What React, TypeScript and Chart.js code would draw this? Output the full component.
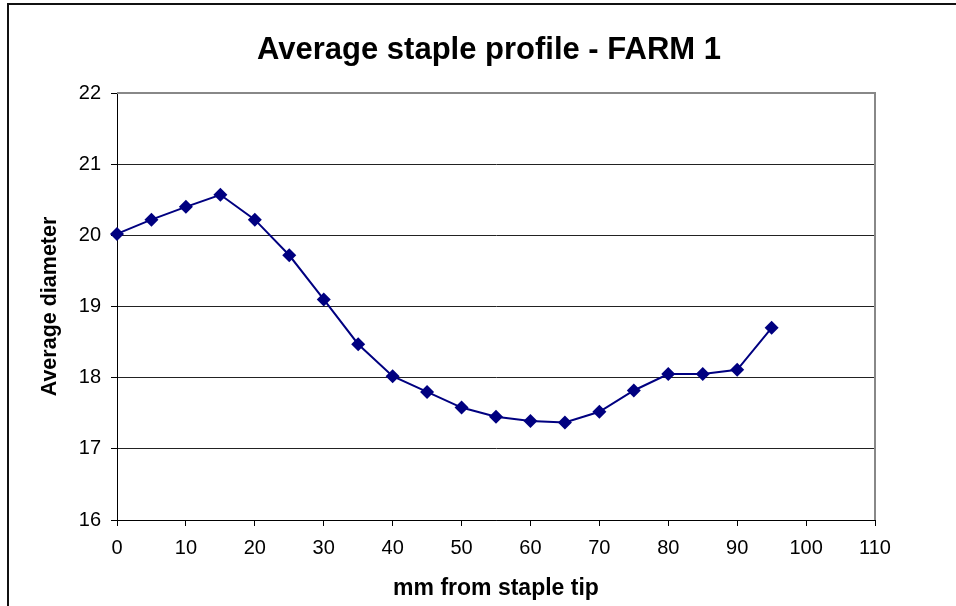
import React, { useEffect, useRef } from "react";
import { Chart, registerables } from "chart.js";

Chart.register(...registerables);

// Distance from the staple tip (mm) and the average fibre diameter measured there
const distanceMm: number[] = [0, 5, 10, 15, 20, 25, 30, 35, 40, 45, 50, 55, 60, 65, 70, 75, 80, 85, 90, 95];
const avgDiameter: number[] = [
  20.02, 20.22, 20.4, 20.57, 20.22, 19.72, 19.1, 18.47, 18.02, 17.8,
  17.58, 17.45, 17.39, 17.37, 17.52, 17.82, 18.05, 18.05, 18.11, 18.7,
];

const chartTitle = "Average staple profile - FARM 1";
const xAxisTitle = "mm from staple tip";
const yAxisTitle = "Average diameter";

const FONT = "'Liberation Sans', Arial, Helvetica, sans-serif";
const NAVY = "#000080";

// Outer frame, plot-area frame and the chart heading
const decorations = {
  id: "decorations",
  beforeDatasetsDraw(chart: any) {
    const { ctx, chartArea } = chart;
    ctx.save();
    ctx.strokeStyle = "#888888";
    ctx.lineWidth = 2;
    ctx.beginPath();
    ctx.moveTo(chartArea.left, chartArea.top);
    ctx.lineTo(chartArea.right, chartArea.top);
    ctx.lineTo(chartArea.right, chartArea.bottom);
    ctx.stroke();
    ctx.restore();
  },
  afterDraw(chart: any) {
    const { ctx } = chart;
    ctx.save();
    ctx.fillStyle = "#111";
    ctx.fillRect(7, 3, 2, 603);
    ctx.fillRect(7, 3, 949, 2);
    ctx.fillStyle = "#000";
    ctx.font = `bold 31px ${FONT}`;
    ctx.textAlign = "center";
    ctx.textBaseline = "alphabetic";
    ctx.fillText(chartTitle, 489, 59);
    ctx.restore();
  },
};

export default function App() {
  const canvasRef = useRef<HTMLCanvasElement | null>(null);

  useEffect(() => {
    document.body.style.margin = "0";
    const canvas = canvasRef.current;
    if (!canvas) return;
    const chart = new Chart(canvas, {
      type: "line",
      data: {
        datasets: [
          {
            label: yAxisTitle,
            data: distanceMm.map((x, i) => ({ x, y: avgDiameter[i] })),
            borderColor: NAVY,
            backgroundColor: NAVY,
            borderWidth: 2,
            tension: 0,
            pointStyle: "rectRot",
            pointRadius: 7,
            pointBorderWidth: 0,
            pointBackgroundColor: NAVY,
            clip: false,
          } as any,
        ],
      },
      options: {
        responsive: false,
        animation: false,
        devicePixelRatio: 1,
        layout: { padding: { top: 93, right: 81, bottom: 0, left: 29 } },
        plugins: {
          legend: { display: false },
          title: { display: false },
          tooltip: { enabled: false },
        },
        scales: {
          x: {
            type: "linear",
            min: 0,
            max: 110,
            ticks: {
              stepSize: 10,
              color: "#000",
              padding: 10,
              font: { family: FONT, size: 20 },
            },
            grid: {
              drawOnChartArea: false,
              drawTicks: true,
              tickLength: 6,
              tickColor: "#000",
            },
            border: { display: true, color: "#000", width: 1 },
            title: {
              display: true,
              text: xAxisTitle,
              color: "#000",
              font: { family: FONT, size: 23, weight: "bold" },
              padding: { top: 0, bottom: 4 },
            },
            afterFit: (scale: any) => {
              scale.height = 86;
            },
          },
          y: {
            type: "linear",
            min: 16,
            max: 22,
            ticks: {
              stepSize: 1,
              color: "#000",
              padding: 10,
              font: { family: FONT, size: 20 },
            },
            grid: {
              color: (c: any) => (c.tick && c.tick.value === 22 ? "rgba(0,0,0,0)" : "#222"),
              lineWidth: 1,
              drawTicks: true,
              tickLength: 6,
              tickColor: "#000",
            },
            border: { display: true, color: "#000", width: 1 },
            title: {
              display: true,
              text: yAxisTitle,
              color: "#000",
              font: { family: FONT, size: 21.5, weight: "bold" },
              padding: { top: 8, bottom: 0 },
            },
            afterFit: (scale: any) => {
              scale.width = 88;
            },
          },
        },
      },
      plugins: [decorations],
    });
    return () => chart.destroy();
  }, []);

  return (
    <div style={{ position: "absolute", left: 0, top: 0, width: 956, height: 606, background: "#fff" }}>
      <canvas ref={canvasRef} width={956} height={606} style={{ display: "block" }} />
    </div>
  );
}
